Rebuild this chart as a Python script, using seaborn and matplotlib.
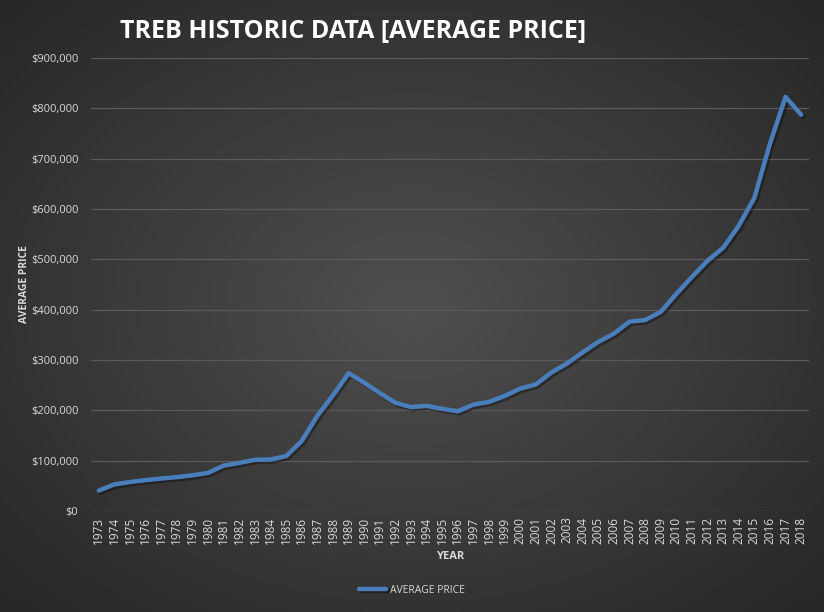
import numpy as np
import pandas as pd
import matplotlib
matplotlib.use("Agg")
import matplotlib.pyplot as plt
import matplotlib.patheffects as pe
import seaborn as sns
from matplotlib.ticker import FuncFormatter

# ---------------------------------------------------------
# Data (TREB average price per year)
# ---------------------------------------------------------
years = [str(y) for y in range(1973, 2019)]
avg_price = [
    40605, 52806, 57581, 61389, 64559, 67333, 70830, 75694, 90203, 95496,
    101626, 102318, 109094, 138925, 189105, 229635, 273698, 255020, 234313, 214971,
    206490, 208921, 203028, 198150, 211307, 216815, 228372, 243255, 251508, 275231,
    293067, 315231, 335907, 352388, 376236, 379347, 395460, 431276, 465014, 497130,
    522958, 566696, 622121, 729922, 822681, 787300,
]
y_ticks = list(range(0, 900001, 100000))

df = pd.DataFrame({"YEAR": years, "AVERAGE PRICE": avg_price})

sns.set_theme(style="dark")
plt.rcParams["font.family"] = ["Open Sans", "DejaVu Sans"]

text_col = "#d9d9d9"
line_col = "#4a7ebb"

fig = plt.figure(figsize=(8.24, 6.12), dpi=100)

# radial gradient background
bg = fig.add_axes([0, 0, 1, 1], zorder=-10)
gx, gy = np.meshgrid(np.linspace(-1, 1, 412), np.linspace(-1, 1, 306))
r = np.sqrt(gx ** 2 + gy ** 2) / np.sqrt(2)
shade = 0.31 - 0.16 * r
bg.imshow(np.dstack([shade, shade, shade]), aspect="auto", extent=[0, 1, 0, 1])
bg.set_axis_off()

ax = fig.add_axes([91 / 824, 1 - 511 / 612, (809 - 91) / 824, (511 - 58) / 612])
ax.patch.set_alpha(0)

sns.lineplot(data=df, x="YEAR", y="AVERAGE PRICE", ax=ax, color=line_col,
             linewidth=3.2, label="AVERAGE PRICE", sort=False)
ax.lines[0].set_path_effects([
    pe.SimpleLineShadow(offset=(1.5, -1.5), shadow_color="black", alpha=0.35),
    pe.Normal(),
])

ax.set_xlim(-0.5, len(years) - 0.5)
ax.set_ylim(0, 900000)
ax.set_yticks(y_ticks)
ax.yaxis.set_major_formatter(FuncFormatter(lambda v, p: f"${v:,.0f}"))
ax.grid(axis="y", color="#5a5a5a", linewidth=0.9)
ax.grid(axis="x", visible=False)
for s in ax.spines.values():
    s.set_visible(False)

ax.tick_params(axis="x", rotation=90, labelsize=8.5, colors=text_col, pad=4, length=0)
ax.tick_params(axis="y", labelsize=8, colors=text_col, pad=9, length=0)

ax.set_xlabel("YEAR", color=text_col, fontsize=8, fontweight="bold", labelpad=5)
ax.set_ylabel("AVERAGE PRICE", color=text_col, fontsize=7.5, fontweight="bold", labelpad=1)

fig.text(0.429, 0.948, "TREB HISTORIC DATA [AVERAGE PRICE]", ha="center", va="center",
         fontsize=18, fontweight="bold", color="white")

leg = ax.legend(loc="center", bbox_to_anchor=(0.447, -0.175), frameon=False,
                fontsize=7.5, handlelength=2.6, handletextpad=0.3)
for t in leg.get_texts():
    t.set_color(text_col)

fig.savefig("out.png", dpi=100)
